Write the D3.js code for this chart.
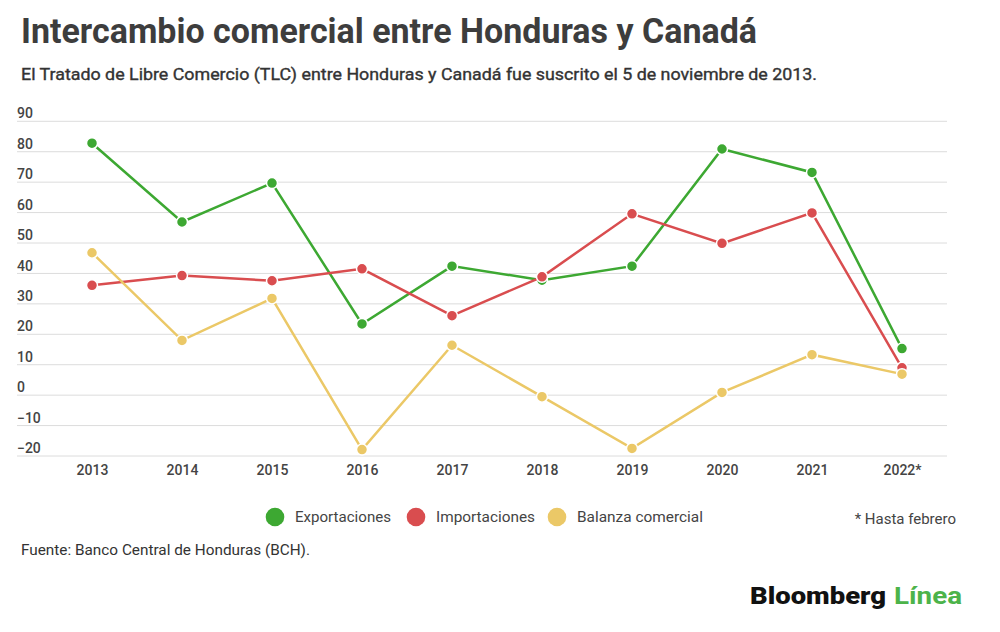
<!DOCTYPE html>
<html>
<head>
<meta charset="utf-8">
<script src="https://cdn.jsdelivr.net/npm/d3@7"></script>
<style>
  html, body { margin: 0; padding: 0; background: #fff; }
  svg { display: block; font-family: Roboto, "Noto Sans", sans-serif; }
</style>
</head>
<body>
<svg id="chart" width="1000" height="632"></svg>
<script>
const years = ["2013","2014","2015","2016","2017","2018","2019","2020","2021","2022*"];
const exportaciones = [82.8, 56.9, 69.7, 23.4, 42.4, 37.8, 42.4, 80.9, 73.2, 15.3];
const importaciones = [36.1, 39.3, 37.6, 41.5, 26.1, 38.9, 59.6, 49.9, 59.9, 9.0];
const balanza = [46.8, 18.0, 31.8, -17.9, 16.4, -0.5, -17.5, 0.9, 13.3, 6.9];
const yTicks = [-20, -10, 0, 10, 20, 30, 40, 50, 60, 70, 80, 90];
const seriesNames = ["Exportaciones", "Importaciones", "Balanza comercial"];
const seriesColors = ["#3da832", "#d94d4f", "#ebc867"];

const svg = d3.select("#chart");

// Title & subtitle
svg.append("text").attr("x", 21).attr("y", 43)
  .attr("font-size", 35).attr("font-weight", 700).attr("fill", "#3d3d3d")
  .attr("textLength", 736).attr("lengthAdjust", "spacingAndGlyphs")
  .text("Intercambio comercial entre Honduras y Canadá");
svg.append("text").attr("x", 21).attr("y", 80)
  .attr("font-size", 16).attr("font-weight", 400).attr("fill", "#333")
  .attr("stroke", "#333").attr("stroke-width", 0.35)
  .attr("textLength", 796).attr("lengthAdjust", "spacingAndGlyphs")
  .text("El Tratado de Libre Comercio (TLC) entre Honduras y Canadá fue suscrito el 5 de noviembre de 2013.");

const y = d3.scaleLinear().domain([-20, 90]).range([456, 121.3]);
const x = d3.scalePoint().domain(years).range([92, 902]);
const gridX0 = 17, gridX1 = 947;

// Gridlines
const grid = svg.append("g");
grid.selectAll("line").data(yTicks).join("line")
  .attr("x1", gridX0).attr("x2", gridX1)
  .attr("y1", d => y(d)).attr("y2", d => y(d))
  .attr("stroke", "#dcdcdc").attr("stroke-width", 1);

// Y labels
const yAxis = d3.axisLeft(y).tickValues(yTicks).tickSize(0).tickFormat(d3.format("d"));
const yg = svg.append("g").attr("transform", `translate(${gridX0},0)`).call(yAxis);
yg.select(".domain").remove();
yg.selectAll("text")
  .attr("text-anchor", "start").attr("x", 0).attr("dy", "-0.24em")
  .attr("font-size", 14).attr("font-weight", 500).attr("font-family", "Roboto, sans-serif").attr("fill", "#444");

// X labels
const xAxis = d3.axisBottom(x).tickSize(0);
const xg = svg.append("g").attr("transform", "translate(0,456)").call(xAxis);
xg.select(".domain").remove();
xg.selectAll("text").attr("dy", 0).attr("y", 19)
  .attr("font-size", 14).attr("font-weight", 500).attr("font-family", "Roboto, sans-serif").attr("fill", "#444");

// Lines & points
const allSeries = [exportaciones, importaciones, balanza];
const line = d3.line().x((d, i) => x(years[i])).y(d => y(d));
[0, 1, 2].forEach(si => {
  svg.append("path").datum(allSeries[si])
    .attr("fill", "none").attr("stroke", seriesColors[si]).attr("stroke-width", 2.5)
    .attr("d", line);
  svg.append("g").selectAll("circle").data(allSeries[si]).join("circle")
    .attr("cx", (d, i) => x(years[i])).attr("cy", d => y(d)).attr("r", 5.5)
    .attr("fill", seriesColors[si]).attr("stroke", "#fff").attr("stroke-width", 1.5);
});

// Legend
const legendX = [275, 416, 557];
const legendW = [96, 99, 126];
const lg = svg.append("g");
seriesNames.forEach((name, i) => {
  lg.append("circle").attr("cx", legendX[i]).attr("cy", 517).attr("r", 9.3).attr("fill", seriesColors[i]);
  lg.append("text").attr("x", legendX[i] + 20).attr("y", 522)
    .attr("font-size", 15).attr("fill", "#444")
    .attr("textLength", legendW[i]).attr("lengthAdjust", "spacingAndGlyphs").text(name);
});
svg.append("text").attr("x", 956).attr("y", 524).attr("text-anchor", "end")
  .attr("font-size", 15).attr("fill", "#444").text("* Hasta febrero");

// Source
svg.append("text").attr("x", 21).attr("y", 555)
  .attr("font-size", 15).attr("fill", "#333")
  .attr("textLength", 289).attr("lengthAdjust", "spacingAndGlyphs")
  .text("Fuente: Banco Central de Honduras (BCH).");

// Logo
svg.append("text").attr("x", 750).attr("y", 604)
  .attr("font-size", 23).attr("font-weight", 900).attr("fill", "#111")
  .attr("textLength", 136).attr("lengthAdjust", "spacingAndGlyphs").text("Bloomberg");
svg.append("text").attr("x", 894).attr("y", 604)
  .attr("font-size", 23).attr("font-weight", 700).attr("fill", "#4cb34a")
  .attr("textLength", 68).attr("lengthAdjust", "spacingAndGlyphs").text("Línea");
</script>
</body>
</html>
